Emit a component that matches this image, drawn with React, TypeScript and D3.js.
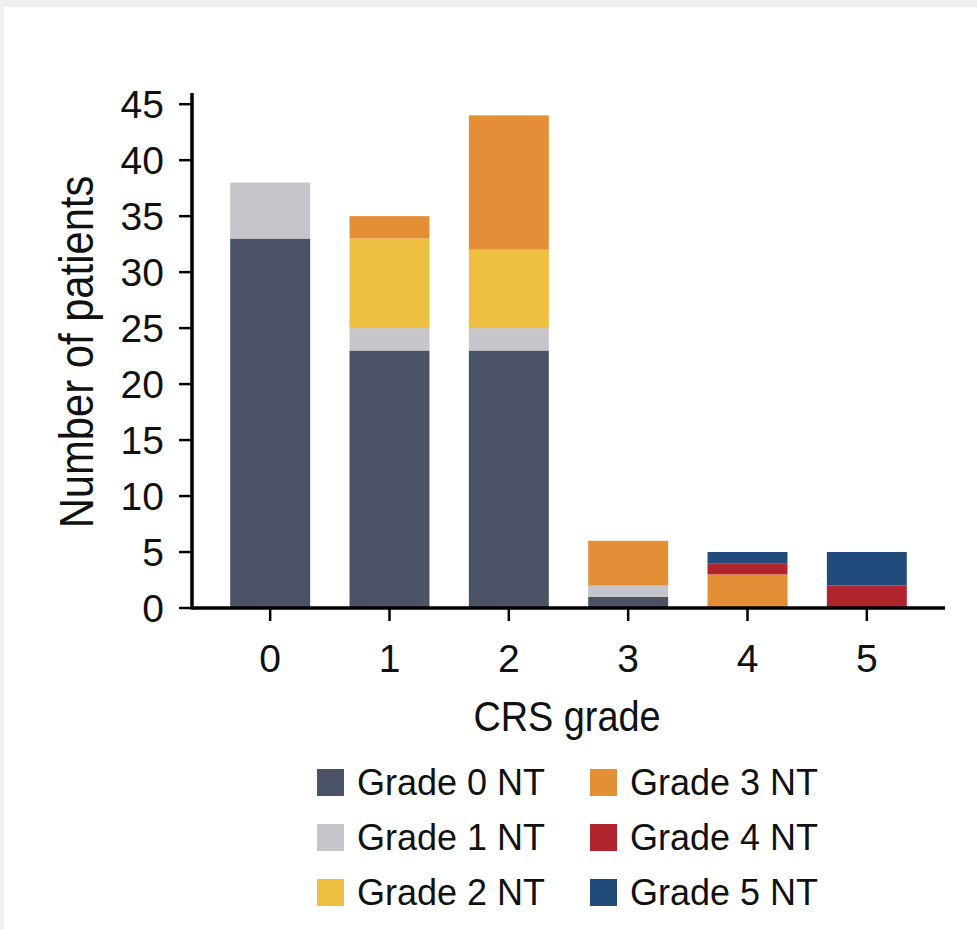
import React from "react";
import * as d3 from "d3";

const categories = ["0", "1", "2", "3", "4", "5"];
const seriesNames = ["Grade 0 NT", "Grade 1 NT", "Grade 2 NT", "Grade 3 NT", "Grade 4 NT", "Grade 5 NT"];
const grade0 = [33, 23, 23, 1, 0, 0];
const grade1 = [5, 2, 2, 1, 0, 0];
const grade2 = [0, 8, 7, 0, 0, 0];
const grade3 = [0, 2, 12, 4, 3, 0];
const grade4 = [0, 0, 0, 0, 1, 2];
const grade5 = [0, 0, 0, 0, 1, 3];
const colors = ["#4b5266", "#c6c5c9", "#eebf41", "#e48f35", "#b0252d", "#214b7b"];
const yTicks = [0, 5, 10, 15, 20, 25, 30, 35, 40, 45];

const W = 977;
const H = 929;
const left = 192;
const right = 945;
const top = 93;
const bottom = 608;

export default function App() {
  const series = [grade0, grade1, grade2, grade3, grade4, grade5];
  const rows = categories.map((c, i) => {
    const r: any = { cat: c };
    seriesNames.forEach((s, k) => (r[s] = series[k][i]));
    return r;
  });
  const stacked = d3.stack<any>().keys(seriesNames)(rows);
  const x = d3.scaleBand().domain(categories).range([left, right]).paddingInner(0.33).paddingOuter(0.32);
  const y = d3.scaleLinear().domain([0, 46]).range([bottom, top]);
  const font = "'Liberation Sans', Arial, sans-serif";

  return (
    <svg width={W} height={H} style={{ position: "absolute", left: 0, top: 0 }}>
      <rect x={0} y={0} width={W} height={H} fill="#efefef" />
      <rect x={4} y={7} width={W - 4} height={H - 7} fill="#ffffff" />
      {stacked.map((s, k) => (
        <g key={s.key} fill={colors[k]}>
          {s.map((d, i) =>
            d[1] - d[0] > 0 ? (
              <rect
                key={i}
                x={x(categories[i])}
                width={x.bandwidth()}
                y={y(d[1])}
                height={y(d[0]) - y(d[1])}
              />
            ) : null
          )}
        </g>
      ))}
      {/* y axis */}
      <line x1={left} x2={left} y1={top} y2={bottom + 1.5} stroke="#000" strokeWidth={3.5} />
      {yTicks.map((t) => (
        <g key={t}>
          <line x1={left - 13} x2={left} y1={y(t)} y2={y(t)} stroke="#000" strokeWidth={2.5} />
          <text x={left - 28} y={y(t)} dy="0.36em" textAnchor="end" fontFamily={font} fontSize={39} fill="#111">
            {t}
          </text>
        </g>
      ))}
      {/* x axis */}
      <line x1={left} x2={right} y1={bottom} y2={bottom} stroke="#000" strokeWidth={3.5} />
      {categories.map((c) => (
        <g key={c}>
          <line
            x1={x(c)! + x.bandwidth() / 2}
            x2={x(c)! + x.bandwidth() / 2}
            y1={bottom}
            y2={bottom + 13}
            stroke="#000"
            strokeWidth={2.5}
          />
          <text x={x(c)! + x.bandwidth() / 2} y={bottom + 64} textAnchor="middle" fontFamily={font} fontSize={39} fill="#111">
            {c}
          </text>
        </g>
      ))}
      <text
        transform="translate(567,731) scale(0.88,1)"
        textAnchor="middle"
        fontFamily={font}
        fontSize={43}
        fill="#111"
      >
        CRS grade
      </text>
      <text
        transform="translate(93,352) rotate(-90) scale(0.87,1)"
        textAnchor="middle"
        fontFamily={font}
        fontSize={48}
        fill="#111"
      >
        Number of patients
      </text>
      {/* legend */}
      {seriesNames.map((s, k) => {
        const col = Math.floor(k / 3);
        const row = k % 3;
        const lx = 317 + col * 273;
        const ly = 769 + row * 55;
        return (
          <g key={s}>
            <rect x={lx} y={ly} width={27} height={27} fill={colors[k]} />
            <text x={lx + 40} y={ly + 13.5} dy="0.36em" fontFamily={font} fontSize={36} fill="#111">
              {s}
            </text>
          </g>
        );
      })}
    </svg>
  );
}
